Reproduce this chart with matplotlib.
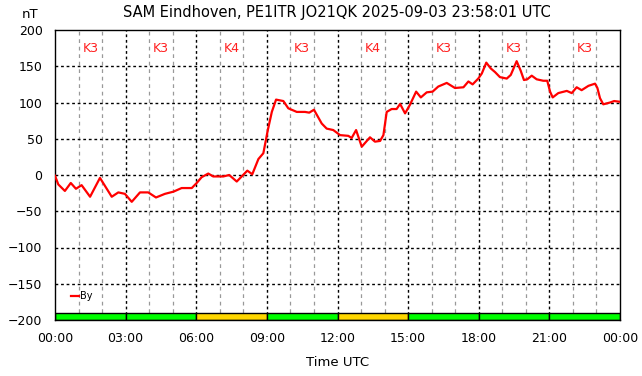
from matplotlib import pyplot as plt
from matplotlib.patches import Rectangle
import numpy as np

# By trace (hours UTC, nT)
hours = [0.00, 0.14, 0.42, 0.67, 0.89, 1.13, 1.49, 1.91, 2.41, 2.69,
         2.97, 3.26, 3.61, 3.96, 4.29, 4.67, 5.03, 5.38, 5.81, 6.02,
         6.23, 6.51, 6.72, 7.15, 7.40, 7.72, 8.17, 8.38, 8.64, 8.85,
         9.04, 9.21, 9.39, 9.70, 9.91, 10.27, 10.62, 10.80, 11.00, 11.33,
         11.54, 11.82, 12.11, 12.46, 12.60, 12.79, 13.03, 13.38, 13.59, 13.81,
         13.95, 14.09, 14.30, 14.51, 14.66, 14.87, 15.08, 15.34, 15.54, 15.79,
         16.04, 16.28, 16.64, 16.99, 17.35, 17.56, 17.74, 17.98, 18.13, 18.32,
         18.51, 18.69, 18.90, 19.19, 19.36, 19.61, 19.78, 19.92, 20.06, 20.25,
         20.46, 20.74, 20.91, 21.03, 21.14, 21.38, 21.74, 21.95, 22.16, 22.37,
         22.66, 22.94, 23.04, 23.15, 23.29, 23.58, 23.75, 24.00]
by_nT = [-1, -13, -22, -11, -19, -14, -30, -4, -30, -24,
         -26, -37, -24, -24, -31, -26, -23, -18, -18, -11,
         -3, 2, -2, -2, 0, -9, 6, 1, 22, 30,
         62, 87, 104, 102, 92, 87, 87, 86, 90, 71,
         64, 62, 55, 54, 51, 62, 39, 52, 46, 47,
         55, 87, 91, 91, 98, 85, 97, 115, 107, 114,
         115, 122, 127, 120, 121, 129, 125, 133, 140, 155,
         147, 142, 135, 133, 138, 157, 144, 131, 132, 137,
         132, 130, 130, 115, 107, 113, 116, 113, 121, 117,
         123, 126, 120, 106, 97.5, 100, 102, 101]

# K index per 3 hour block
k_index = [3, 3, 4, 3, 4, 3, 3, 3]
k_starts = [0, 3, 6, 9, 12, 15, 18, 21]
k_colors = {3: '#00ff00', 4: '#ffd700'}

xticks = [0, 3, 6, 9, 12, 15, 18, 21, 24]
xticklabels = ['00:00', '03:00', '06:00', '09:00', '12:00', '15:00',
               '18:00', '21:00', '00:00']
yticks = [-200, -150, -100, -50, 0, 50, 100, 150, 200]

ttl = 'SAM Eindhoven, PE1ITR JO21QK 2025-09-03 23:58:01 UTC'

fig = plt.figure(figsize=(6.42, 3.76), dpi=100)
ax = fig.add_axes([55/642, 56/376, 565/642, 290/376])

ax.set_xlim(0, 24)
ax.set_ylim(-200, 200)

# hourly minor grid (grey) and 3-hourly major grid (black)
for h in range(1, 24):
    if h % 3:
        ax.axvline(h, color='#999999', lw=0.9, ls=(0, (3, 3)), zorder=1)
    else:
        ax.axvline(h, color='black', lw=1.0, ls=(0, (2, 2)), zorder=1)
for y in yticks[1:-1]:
    ax.axhline(y, color='black', lw=1.0, ls=(0, (2, 2)), zorder=1)

# K index status bar along the bottom
for start, k in zip(k_starts, k_index):
    ax.add_patch(Rectangle((start, -200), 3, 9.5, facecolor=k_colors[k],
                           edgecolor='black', lw=1.0, zorder=2))
    ax.text(start + 1.5, 174, 'K%d' % k, color='#ff2020', fontsize=9,
            ha='center', va='center', zorder=3)

ax.plot(hours, by_nT, color='#ff0000', lw=1.6, label='By', zorder=4)

ax.set_xticks(xticks)
ax.set_xticklabels(xticklabels)
ax.set_yticks(yticks)
ax.tick_params(length=0, labelsize=9, pad=9)
for sp in ax.spines.values():
    sp.set_color('black')
    sp.set_linewidth(1.0)

ax.legend(loc='center left', bbox_to_anchor=(0.028, 0.083), frameon=False,
          fontsize=7, handlelength=0.8, handletextpad=0.15, borderpad=0,
          borderaxespad=0)

fig.text(336.5/642, 1 - 12/376, ttl, ha='center', va='center', fontsize=10.5)
fig.text(30.5/642, 1 - 15/376, 'nT', ha='center', va='center', fontsize=9.5)
fig.text(337.5/642, 1 - 362/376, 'Time UTC', ha='center', va='center',
         fontsize=9.5)

plt.savefig('out.png', dpi=100)
